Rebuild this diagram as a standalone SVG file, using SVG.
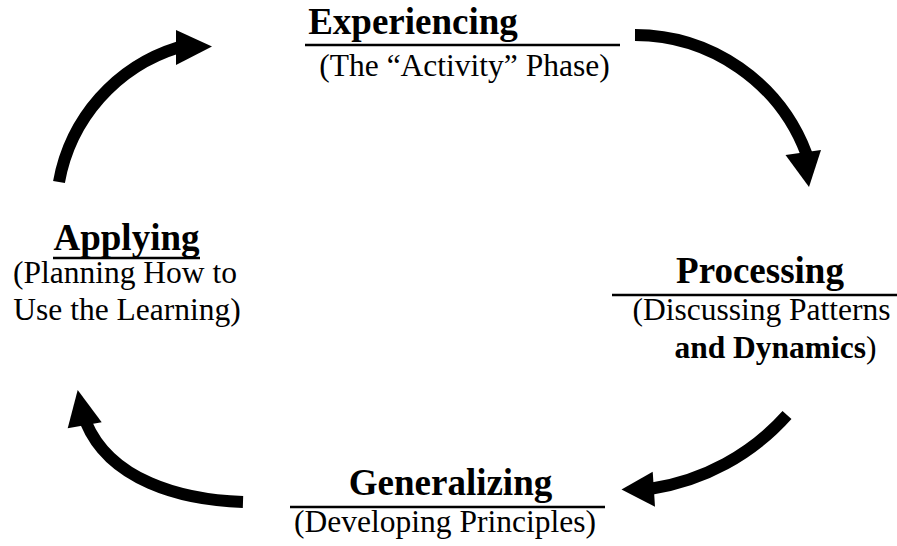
<svg xmlns="http://www.w3.org/2000/svg" width="897" height="546" viewBox="0 0 897 546">
  <style>
    .head { font-family: "Liberation Serif", "Times New Roman", serif; font-size: 37px; font-weight: bold; fill: #000; text-anchor: middle; }
    .sub { font-family: "Liberation Serif", "Times New Roman", serif; font-size: 31.5px; fill: #000; text-anchor: middle; }
    .b { font-weight: bold; }
    .rule { stroke: #000; stroke-width: 2.5; }
    .arc { fill: none; stroke: #000; stroke-width: 12; stroke-linecap: butt; }
    .tip { fill: #000; stroke: none; }
  </style>
  <rect width="897" height="546" fill="#fff"/>

  <g id="connectors">
    <!-- Applying -> Experiencing -->
    <path class="arc" d="M59,182 A173,173 0 0 1 178,47.5"/>
    <polygon class="tip" points="176,30 212,46.5 176,65"/>
    <!-- Experiencing -> Processing -->
    <path class="arc" d="M635,35 A183.5,183.5 0 0 1 806.5,154"/>
    <polygon class="tip" points="785.5,155 821,150 809,187"/>
    <!-- Processing -> Generalizing -->
    <path class="arc" d="M787,415 A228,228 0 0 1 651,488.7"/>
    <polygon class="tip" points="652.7,471.7 621.5,489.5 655,506.7"/>
    <!-- Generalizing -> Applying -->
    <path class="arc" d="M243,502 C180,500 110,480 86,422.5"/>
    <polygon class="tip" points="67.7,428.3 77.7,390 101.7,422.3"/>
  </g>

  <g id="experiencing">
    <text class="head" x="413" y="34">Experiencing</text>
    <line class="rule" x1="305" y1="45" x2="620" y2="45"/>
    <text class="sub" x="464.5" y="76">(The “Activity” Phase)</text>
  </g>

  <g id="processing">
    <text class="head" x="760" y="283">Processing</text>
    <line class="rule" x1="612" y1="295" x2="897" y2="295"/>
    <text class="sub" x="761.5" y="320">(Discussing Patterns</text>
    <text class="sub" x="775.5" y="358"><tspan class="b">and Dynamics</tspan>)</text>
  </g>

  <g id="generalizing">
    <text class="head" x="450.5" y="495">Generalizing</text>
    <line class="rule" x1="290" y1="507" x2="605" y2="507"/>
    <text class="sub" x="445" y="532">(Developing Principles)</text>
  </g>

  <g id="applying">
    <text class="head" x="126.5" y="250">Applying</text>
    <line class="rule" x1="53" y1="258" x2="200" y2="258"/>
    <text class="sub" x="125" y="283">(Planning How to</text>
    <text class="sub" x="127" y="320">Use the Learning)</text>
  </g>
</svg>
